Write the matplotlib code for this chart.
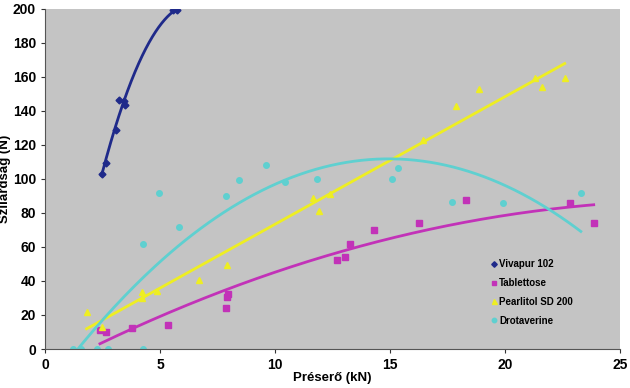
import numpy as np
import matplotlib.pyplot as plt

plt.rcParams['font.family'] = ['Liberation Sans', 'DejaVu Sans']
plt.rcParams['font.weight'] = 'bold'

# Vivapur 102
viva_x = [2.46, 2.65, 3.09, 3.22, 3.45, 3.49, 5.58, 5.75]
viva_y = [102.8, 109.6, 128.8, 146.7, 145.9, 143.5, 199.4, 199.4]

# Tablettose
tab_x = [2.39, 2.64, 3.77, 5.36, 7.86, 7.93, 7.94, 12.71, 13.06, 13.26,
         14.32, 16.25, 18.3, 22.81, 23.86]
tab_y = [11.2, 10.2, 12.2, 14.1, 24.3, 30.4, 32.2, 52.2, 54.1, 61.9,
         70.0, 73.9, 87.6, 85.7, 73.9]

# Pearlitol SD 200
pearl_x = [1.81, 2.46, 4.2, 4.23, 4.85, 6.71, 7.9, 11.67, 11.93, 12.39,
           16.42, 17.87, 18.87, 21.3, 21.6, 22.6]
pearl_y = [21.9, 13.1, 33.3, 29.8, 34.1, 40.6, 49.4, 89.0, 81.2, 91.2,
           122.9, 143.1, 152.7, 159.2, 153.9, 159.2]

# Drotaverine
drot_x = [1.23, 1.57, 2.25, 2.72, 4.25, 4.25, 4.96, 5.84, 7.87, 8.45,
          9.6, 10.43, 11.84, 15.07, 15.36, 17.71, 19.93, 23.3]
drot_y = [0, 0, 0, 0, 0, 61.8, 91.6, 72.0, 90.0, 99.4,
          108.0, 98.4, 99.8, 99.8, 106.3, 86.7, 85.7, 91.6]

series = [
    ('Vivapur 102', viva_x, viva_y, 2, '#1f2a8a', 'D', 3.5),
    ('Tablettose', tab_x, tab_y, 2, '#c232b8', 's', 4),
    ('Pearlitol SD 200', pearl_x, pearl_y, 1, '#eeee22', '^', 4.5),
    ('Drotaverine', drot_x, drot_y, 2, '#5fd0d0', 'o', 4),
]

fig = plt.figure(figsize=(6.3, 3.88), dpi=100)
ax = fig.add_axes([0.0714, 0.1005, 0.9126, 0.8765])
ax.set_facecolor('#c4c4c4')

for name, xs, ys, deg, col, mk, ms in series:
    xs = np.array(xs)
    ys = np.array(ys)
    coef = np.polyfit(xs, ys, deg)
    xx = np.linspace(xs.min(), xs.max(), 200)
    ax.plot(xx, np.polyval(coef, xx), color=col, lw=2)
    ax.plot(xs, ys, ls='none', marker=mk, ms=ms, color=col, label=name)

ax.set_xlim(0, 25)
ax.set_ylim(0, 200)
ax.set_xticks(range(0, 26, 5))
ax.set_yticks(range(0, 201, 20))
ax.tick_params(labelsize=10, length=3, color='#333333')
for s in ['top', 'right']:
    ax.spines[s].set_visible(False)
for s in ['left', 'bottom']:
    ax.spines[s].set_color('#555555')

ax.set_xlabel('Préserő (kN)', fontsize=9.5, fontweight='bold', labelpad=0)
ax.set_ylabel('Szilárdság (N)', fontsize=9.5, fontweight='bold', labelpad=1)

ax.legend(loc='upper left', bbox_to_anchor=(0.77, 0.275), frameon=False,
          fontsize=7, handlelength=0.6, handletextpad=0.2, labelspacing=0.9,
          markerscale=0.8, borderaxespad=0)

fig.savefig('out.png', dpi=100)
